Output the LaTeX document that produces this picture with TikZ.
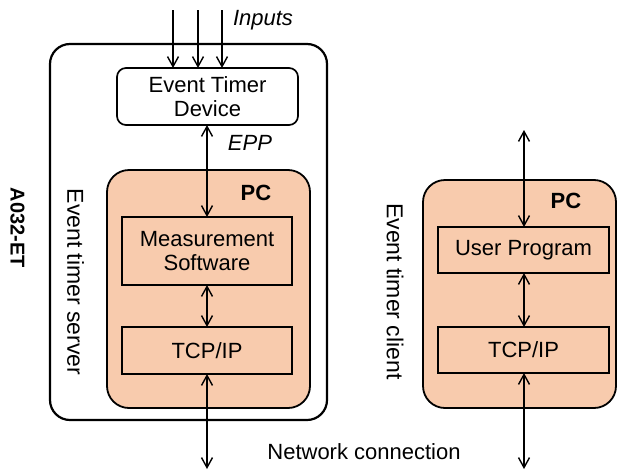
\documentclass[tikz,border=0pt]{standalone}
\usepackage{fontspec}
\setmainfont{Liberation Sans}
\usetikzlibrary{arrows.meta}
\definecolor{pcfill}{HTML}{F8CBAD}
\begin{document}
\begin{tikzpicture}[x=1pt,y=-1pt,
  font=\fontsize{22}{24}\selectfont,
  every node/.style={inner sep=0pt, outer sep=0pt},
  outerbox/.style={draw, line width=2.2pt, rounded corners=20pt},
  devbox/.style={draw, fill=white, line width=1.7pt, rounded corners=9pt, align=center},
  pcbox/.style={draw, fill=pcfill, line width=1.8pt, rounded corners=22pt},
  swbox/.style={draw, fill=pcfill, line width=1.3pt, align=center},
  tip/.tip={Straight Barb[length=10pt,width=11pt,line width=1.4pt]},
  link/.style={line width=1.4pt, tip-tip},
  feed/.style={line width=1.4pt, -tip},
  vlabel/.style={rotate=-90, font=\fontsize{23}{24}\selectfont}]
\useasboundingbox (0,0) rectangle (617,471);

% server enclosure
\node[outerbox, minimum width=277pt, minimum height=376pt] (server) at (188.5,232) {};
\node[devbox, minimum width=181pt, minimum height=57pt] (dev) at (207.5,96.5) {Event Timer\\Device};
\node[pcbox, minimum width=203pt, minimum height=238pt] (spc) at (208.5,289) {};
\node[swbox, minimum width=170pt, minimum height=68pt] (meas) at (207,251) {Measurement\\Software};
\node[swbox, minimum width=170pt, minimum height=47pt] (stcp) at (207,350.5) {TCP/IP};
\node[font=\fontsize{22}{24}\selectfont\bfseries] (spclabel) at (256,193) {PC};

% client PC
\node[pcbox, minimum width=193pt, minimum height=228pt] (cpc) at (519.5,294) {};
\node[swbox, minimum width=171pt, minimum height=46pt] (user) at (523.5,250) {User Program};
\node[swbox, minimum width=171pt, minimum height=46pt] (ctcp) at (523.5,350) {TCP/IP};
\node[font=\fontsize{22}{24}\selectfont\bfseries] (cpclabel) at (566,201) {PC};

% labels
\node[font=\fontsize{22}{24}\selectfont\itshape] (inputs) at (263,20) {Inputs};
\node[font=\fontsize{22}{24}\selectfont\itshape] (epp) at (250,143) {EPP};
\node[vlabel] (srvlabel) at (75.5,282) {Event timer server};
\node[vlabel, font=\fontsize{20}{24}\selectfont\bfseries] (model) at (17.5,228) {A032-ET};
\node[vlabel] (clilabel) at (395,291.5) {Event timer client};
\node (net) at (364,452) {Network connection};

% free ends of connectors
\coordinate (in1) at (173,10);
\coordinate (in2) at (198,10);
\coordinate (in3) at (222,10);
\coordinate (snet) at (207,469);
\coordinate (ctop) at (524,130);
\coordinate (cnet) at (524,469);

% connectors
\draw[feed] (in1) -- (in1 |- dev.north);
\draw[feed] (in2) -- (in2 |- dev.north);
\draw[feed] (in3) -- (in3 |- dev.north);
\draw[link] (dev.south -| meas.north) -- (meas.north);
\draw[link] (meas.south) -- (stcp.north);
\draw[link] (stcp.south) -- (snet);
\draw[link] (ctop) -- (ctop |- user.north);
\draw[link] (ctop |- user.south) -- (ctop |- ctcp.north);
\draw[link] (ctop |- ctcp.south) -- (cnet);
\end{tikzpicture}
\end{document}
